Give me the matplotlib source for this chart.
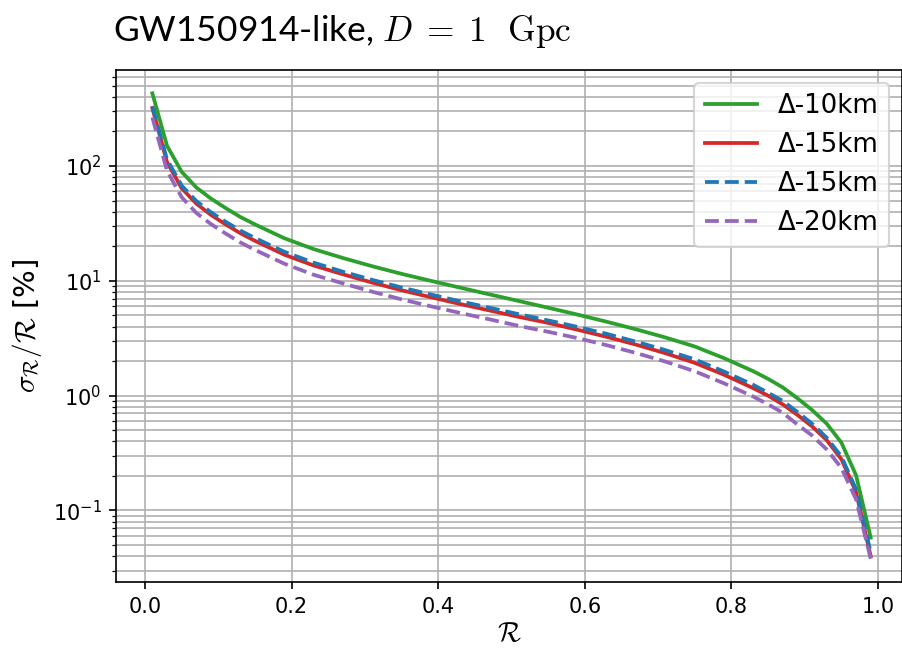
import matplotlib
matplotlib.use("Agg")
import matplotlib.pyplot as plt

R = [0.01, 0.03, 0.05, 0.07, 0.09, 0.11, 0.13, 0.15, 0.19, 0.23, 0.27, 0.31,
     0.35, 0.39, 0.43, 0.47, 0.51, 0.55, 0.59, 0.63, 0.67, 0.71, 0.75, 0.79,
     0.83, 0.85, 0.87, 0.89, 0.91, 0.93, 0.95, 0.97, 0.99]

d10 = [430, 150, 89, 65, 52, 43, 36, 31, 23.5, 18.9, 15.8, 13.4,
       11.5, 10.0, 8.72, 7.62, 6.67, 5.83, 5.08, 4.40, 3.78, 3.21, 2.68, 2.12,
       1.63, 1.40, 1.18, 0.95, 0.75, 0.57, 0.39, 0.203, 0.058]

d15 = [320, 108, 64, 47, 37.5, 31, 26, 22.3, 16.9, 13.6, 11.4, 9.65,
       8.28, 7.2, 6.28, 5.52, 4.85, 4.30, 3.75, 3.25, 2.78, 2.34, 1.93, 1.52,
       1.16, 1.00, 0.84, 0.68, 0.54, 0.41, 0.28, 0.145, 0.040]

d15b = [330, 114, 67.5, 49.5, 39.5, 32.7, 27.4, 23.6, 17.9, 14.4, 12.0, 10.2,
        8.74, 7.6, 6.63, 5.83, 5.12, 4.52, 3.97, 3.45, 2.95, 2.49, 2.07, 1.62,
        1.24, 1.06, 0.90, 0.72, 0.57, 0.43, 0.295, 0.153, 0.043]

d20 = [265, 91, 53.5, 39, 31.2, 25.8, 21.6, 18.6, 14.1, 11.3, 9.5, 8.04,
       6.9, 6.0, 5.25, 4.62, 4.05, 3.6, 3.17, 2.75, 2.35, 1.98, 1.63, 1.28,
       0.98, 0.84, 0.71, 0.56, 0.45, 0.34, 0.235, 0.125, 0.038]

labels = ["Δ-10km", "Δ-15km", "Δ-15km", "Δ-20km"]

fig = plt.figure(figsize=(903/150, 651/150), dpi=150)
ax = fig.add_axes([116/903, 1-582/651, (902-116)/903, (582-70)/651])

lw = 1.8
ax.plot(R, d10, color="tab:green", ls="-", lw=lw, label=labels[0])
ax.plot(R, d15, color="tab:red", ls="-", lw=lw, label=labels[1])
ax.plot(R, d15b, color="tab:blue", ls="--", lw=lw, label=labels[2])
ax.plot(R, d20, color="tab:purple", ls="--", lw=lw, label=labels[3])

ax.set_yscale("log")
ax.set_xlim(-0.0396, 1.0327)
ax.grid(True, which="both")
ax.set_axisbelow(True)

ax.set_xlabel(r"$\mathcal{R}$", fontsize=13, math_fontfamily="cm", labelpad=2)
ax.set_ylabel(r"$\sigma_\mathcal{R}/\mathcal{R}$ [%]", fontsize=14, math_fontfamily="cm")
ax.set_title(r"GW150914-like, $D\;=\;1\ \ \mathrm{Gpc}$", loc="left", fontsize=17,
             family="Lato", math_fontfamily="cm", pad=14, x=-0.004)
ax.legend(loc="upper right", fontsize=12.5)

fig.savefig("out.png", dpi=150)
